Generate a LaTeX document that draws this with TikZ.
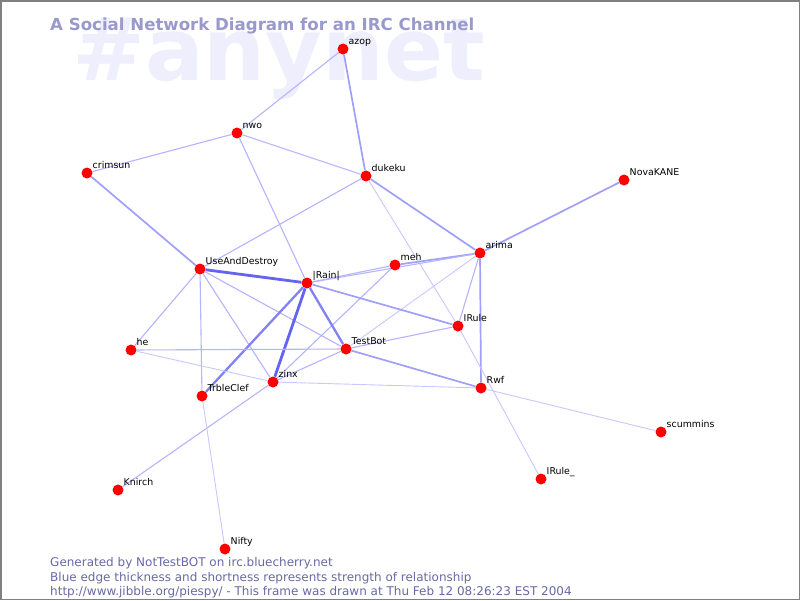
\documentclass[tikz,border=0pt]{standalone}
\usepackage{fontspec}
\setmainfont{DejaVu Sans}
\newfontfamily\dv{DejaVu Sans}
\usetikzlibrary{backgrounds}
\definecolor{wm}{RGB}{238,238,252}
\definecolor{titlec}{RGB}{153,153,204}
\definecolor{footc}{RGB}{105,105,165}
\definecolor{eA}{RGB}{200,200,255}
\definecolor{eB}{RGB}{180,180,255}
\definecolor{eC}{RGB}{160,160,250}
\definecolor{eD}{RGB}{130,130,245}
\definecolor{eE}{RGB}{100,100,240}
\tikzset{
  pt/.style={circle,fill=red,draw=none,minimum size=11pt,inner sep=0pt},
  lab/.style={font=\dv\fontsize{9.4}{10}\selectfont,inner sep=0pt,anchor=base west,xshift=1.5pt,yshift=0.5pt},
  ez/.style={draw=eA,line width=0.9pt},
  ea/.style={draw=eB,line width=1.1pt},
  eb/.style={draw=eC,line width=1.7pt},
  ec/.style={draw=eD,line width=2.3pt},
  ed/.style={draw=eE,line width=2.8pt},
  foot/.style={font=\dv\fontsize{12}{13}\selectfont,text=footc,inner sep=0pt,anchor=base west},
}
\begin{document}
\begin{tikzpicture}[x=1pt,y=-1pt]
\useasboundingbox (0,0) rectangle (800,600);
% nodes
\node[pt,label={[lab]north east:azop}] (azop) at (343,49) {};
\node[pt,label={[lab]north east:nwo}] (nwo) at (237,133) {};
\node[pt,label={[lab]north east:crimsun}] (crimsun) at (87,173) {};
\node[pt,label={[lab]north east:dukeku}] (dukeku) at (366,176) {};
\node[pt,label={[lab]north east:NovaKANE}] (nova) at (624,180) {};
\node[pt,label={[lab]north east:arima}] (arima) at (480,253) {};
\node[pt,label={[lab]north east:UseAndDestroy}] (uad) at (200,269) {};
\node[pt,label={[lab]north east:meh}] (meh) at (395,265) {};
\node[pt,label={[lab]north east:|Rain|}] (rain) at (307,283) {};
\node[pt,label={[lab]north east:IRule}] (irule) at (458,326) {};
\node[pt,label={[lab]north east:he}] (he) at (131,350) {};
\node[pt,label={[lab]north east:TestBot}] (testbot) at (346,349) {};
\node[pt,label={[lab]north east:zinx}] (zinx) at (273,382) {};
\node[pt,label={[lab]north east:TrbleClef}] (trble) at (202,396) {};
\node[pt,label={[lab]north east:Rwf}] (rwf) at (481,388) {};
\node[pt,label={[lab]north east:scummins}] (scum) at (661,432) {};
\node[pt,label={[lab]north east:Knirch}] (knirch) at (118,490) {};
\node[pt,label={[lab]north east:IRule\_}] (irule2) at (541,479) {};
\node[pt,label={[lab]north east:Nifty}] (nifty) at (225,549) {};
% edges
\begin{pgfonlayer}{background}
\fill[white] (0,0) rectangle (800,600);
\node[font=\dv\bfseries\fontsize{87}{87}\selectfont,text=wm,inner sep=0pt,anchor=base west] (wmark) at (72,80) {\#anynet};
\node[font=\dv\bfseries\fontsize{16.6}{18}\selectfont,text=titlec,inner sep=0pt,anchor=base west] (title) at (50,30) {A Social Network Diagram for an IRC Channel};
\draw[ea] (azop) -- (nwo);
\draw[eb] (azop) -- (dukeku);
\draw[ea] (nwo) -- (crimsun);
\draw[ea] (nwo) -- (dukeku);
\draw[ea] (nwo) -- (rain);
\draw[eb] (crimsun) -- (uad);
\draw[ea] (dukeku) -- (uad);
\draw[eb] (dukeku) -- (arima);
\draw[ez] (dukeku) -- (irule);
\draw[eb] (nova) -- (arima);
\draw[eb] (arima) -- (meh);
\draw[ea] (arima) -- (irule);
\draw[eb] (arima) -- (rwf);
\draw[ez] (arima) -- (testbot);
\draw[ea] (arima) -- (rain);
\draw[ea] (meh) -- (rain);
\draw[ea] (meh) -- (zinx);
\draw[ed] (uad) -- (rain);
\draw[ea] (uad) -- (he);
\draw[ea] (uad) -- (trble);
\draw[ea] (uad) -- (zinx);
\draw[ea] (uad) -- (testbot);
\draw[eb] (rain) -- (irule);
\draw[ec] (rain) -- (testbot);
\draw[ed] (rain) -- (zinx);
\draw[ec] (rain) -- (trble);
\draw[ea] (testbot) -- (irule);
\draw[eb] (testbot) -- (rwf);
\draw[ea] (testbot) -- (he);
\draw[ea] (testbot) -- (zinx);
\draw[ez] (zinx) -- (he);
\draw[ez] (zinx) -- (rwf);
\draw[ea] (zinx) -- (knirch);
\draw[ez] (irule) -- (irule2);
\draw[ez] (rwf) -- (scum);
\draw[ez] (trble) -- (nifty);
\end{pgfonlayer}
% footer
\node[foot] (f1) at (50,566) {Generated by NotTestBOT on irc.bluecherry.net};
\node[foot] (f2) at (50,581) {Blue edge thickness and shortness represents strength of relationship};
\node[foot] (f3) at (50,595.5) {http://www.jibble.org/piespy/ - This frame was drawn at Thu Feb 12 08:26:23 EST 2004};
\draw[gray,line width=1.5pt] (0.75,0.75) rectangle (799.25,599.25);
\end{tikzpicture}
\end{document}
